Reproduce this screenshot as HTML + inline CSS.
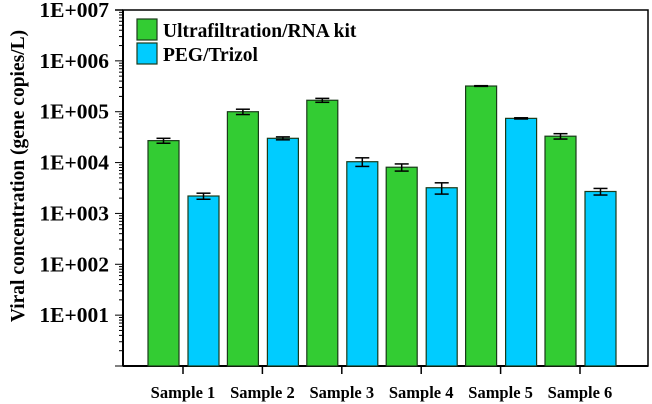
<!DOCTYPE html>
<html><head><meta charset="utf-8"><style>
html,body{margin:0;padding:0;background:#fff;}
svg{display:block;font-family:"Liberation Serif",serif;font-weight:bold;}
</style></head><body>
<svg id="chart" width="652" height="404"></svg>
<script>
const categories=["Sample 1","Sample 2","Sample 3","Sample 4","Sample 5","Sample 6"];
const ufValues=[27000,100000,168000,8100,320000,33000];
const ufErrors=[3000,12000,15000,1300,5000,4000];
const pegValues=[2200,30000,10400,3200,74000,2700];
const pegErrors=[300,2000,2000,800,2000,400];
const yTickLabels=["1E+001","1E+002","1E+003","1E+004","1E+005","1E+006","1E+007"];
const seriesNames=["Ultrafiltration/RNA kit","PEG/Trizol"];
const NS="http://www.w3.org/2000/svg";
const svg=document.getElementById('chart');
const X0=123,X1=648,Y0=366,Y1=10,DEC=(Y0-Y1)/7;
function yScale(v){return Y0-Math.log10(v)*DEC;}
function xCenter(i){return 183+i*79.4;}
function mk(t,a,p){const e=document.createElementNS(NS,t);for(const k in a)e.setAttribute(k,a[k]);(p||svg).appendChild(e);return e;}
let fr=mk('rect',{x:X0,y:Y1,width:X1-X0,height:Y0-Y1,fill:'none',stroke:'#000','stroke-width':1.5});


for(let d=0;d<7;d++){for(let m=1;m<=9;m++){const y=yScale(Math.pow(10,d)*m);const L=m===1?8:4;
mk('line',{x1:X0-L,x2:X0,y1:y,y2:y,stroke:'#000','stroke-width':1});}}
mk('line',{x1:X0-8,x2:X0,y1:Y1,y2:Y1,stroke:'#000','stroke-width':1.5});
yTickLabels.forEach((lab,i)=>{const t=mk('text',{x:X0-14,y:yScale(Math.pow(10,i+1))+7,'text-anchor':'end','font-size':21.5});t.textContent=lab;

});
let yt=mk('text',{transform:'translate(24,176) rotate(-90)','text-anchor':'middle','font-size':19.5});yt.textContent='Viral concentration (gene copies/L)';


mk('line',{x1:X0,x2:X0,y1:Y1,y2:Y0,stroke:'#000','stroke-width':2});
mk('line',{x1:X0,x2:X1,y1:Y0,y2:Y0,stroke:'#000','stroke-width':2});
function bar(x,v,e,col,name){const y=yScale(v);
const r=mk('rect',{x:x,y:y,width:31,height:Y0-y,fill:col,stroke:'#1a3a1a','stroke-width':1.2});


const cx=x+15.5,yt=yScale(v+e),yb=yScale(Math.max(v-e,1));
mk('line',{x1:cx,x2:cx,y1:yt,y2:yb,stroke:'#000','stroke-width':1.5});
mk('line',{x1:cx-7,x2:cx+7,y1:yt,y2:yt,stroke:'#000','stroke-width':1.5});
mk('line',{x1:cx-7,x2:cx+7,y1:yb,y2:yb,stroke:'#000','stroke-width':1.5});}
categories.forEach((c,i)=>{const cx=xCenter(i);
bar(cx-35,ufValues[i],ufErrors[i],'#33cc33','bar-ultrafiltration-'+(i+1));
bar(cx+5,pegValues[i],pegErrors[i],'#00ccff','bar-peg-'+(i+1));
mk('line',{x1:cx,x2:cx,y1:Y0,y2:Y0+8,stroke:'#000','stroke-width':1.5});
const t=mk('text',{x:cx,y:398,'text-anchor':'middle','font-size':16.5});t.textContent=c;

});
const cols=['#33cc33','#00ccff'];
seriesNames.forEach((n,i)=>{const g=mk('g',{});


mk('rect',{x:137,y:19+i*24,width:20,height:21,fill:cols[i],stroke:'#1a3a1a','stroke-width':1.2},g);
const t=mk('text',{x:163,y:37+i*24,'font-size':19.5},g);t.textContent=n;});
</script>
</body></html>
